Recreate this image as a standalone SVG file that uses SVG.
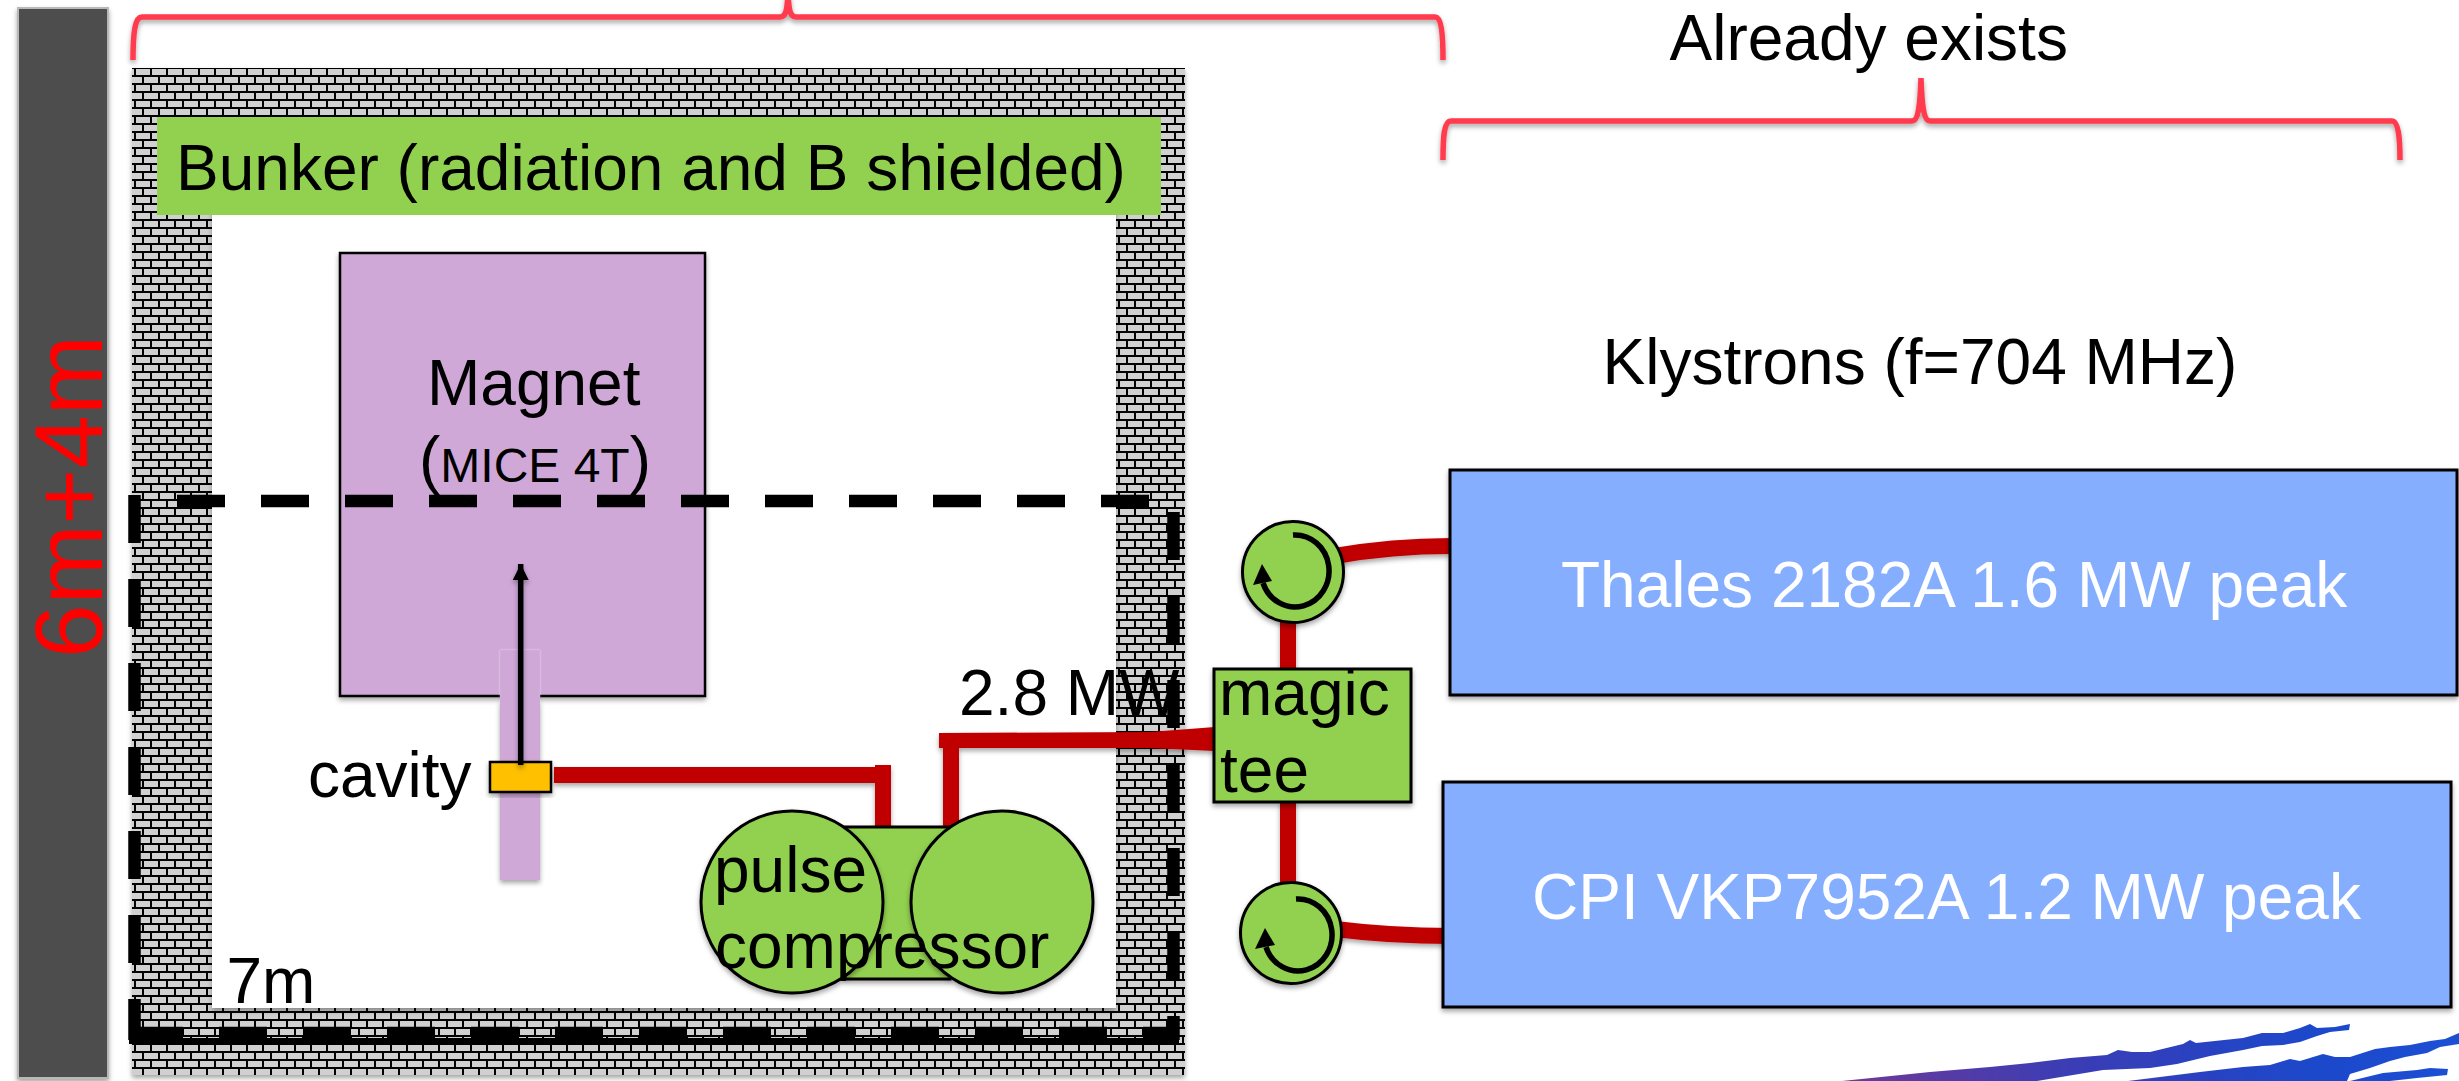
<svg xmlns="http://www.w3.org/2000/svg" width="2459" height="1081" viewBox="0 0 2459 1081">
<style>
text{font-family:"Liberation Sans",Arial,sans-serif;font-size:64px;fill:#000}
.w{fill:#fff}
.box{stroke:#000;stroke-width:3}
.g{fill:#92d050}
.b{fill:#86aeff}
.sh{filter:url(#sh)}
.brace{fill:none;stroke:#ff3b4e;stroke-width:5.5;filter:url(#sh)}
.rf{fill:none;stroke:#c00000;stroke-width:16}
.dash{fill:none;stroke:#000;stroke-width:12.5;stroke-dasharray:48 36}
.circ{fill:none;stroke:#000;stroke-width:5.5}
</style>
<defs>
<filter id="sh" x="-20%" y="-20%" width="140%" height="140%"><feDropShadow dx="0" dy="3" stdDeviation="2.5" flood-color="#000" flood-opacity="0.35"/></filter>
<filter id="shl" filterUnits="userSpaceOnUse" x="500" y="540" width="42" height="240"><feDropShadow dx="0" dy="3" stdDeviation="2.5" flood-color="#000" flood-opacity="0.35"/></filter>
<filter id="sb"><feGaussianBlur stdDeviation="0.6"/></filter>
<pattern id="brick" patternUnits="userSpaceOnUse" x="0" y="5" width="16" height="16">
<rect width="16" height="16" fill="#000"/>
<rect x="8" y="0" width="8" height="6" fill="#d0d0d0"/>
<rect x="0" y="0" width="6" height="6" fill="#d0d0d0"/>
<rect x="0" y="8" width="14" height="6" fill="#d0d0d0"/>
</pattern>
<linearGradient id="sw" gradientUnits="userSpaceOnUse" x1="1850" y1="0" x2="2459" y2="0">
<stop offset="0" stop-color="#6c3a98"/><stop offset="0.35" stop-color="#3c3cb4"/><stop offset="0.7" stop-color="#2046c8"/><stop offset="1" stop-color="#1a50d4"/>
</linearGradient>
<marker id="ah" markerUnits="userSpaceOnUse" markerWidth="16" markerHeight="18" refX="16" refY="8" orient="auto"><path d="M0,0L16,8L0,16Z" fill="#000"/></marker>
</defs>
<rect width="2459" height="1081" fill="#fff"/>

<g id="swoosh" filter="url(#sb)" fill="url(#sw)">
<path d="M1842,1081L1930,1072L1990,1067L2030,1063L2070,1058L2107,1055L2118,1050L2132,1052L2150,1052L2183,1044L2190,1040L2196,1043L2243,1038L2262,1033L2283,1033L2300,1028L2310,1024L2317,1028L2335,1027L2350,1024L2349,1030L2330,1032L2317,1036L2300,1042L2283,1045L2262,1046L2243,1050L2210,1056L2177,1064L2150,1068L2103,1070L2067,1076L2037,1081Z"/>
<path d="M2128,1081L2200,1072L2243,1067L2270,1065L2290,1059L2300,1061L2323,1054L2335,1057L2350,1057L2375,1049L2390,1047L2410,1045L2430,1041L2445,1039L2459,1033L2459,1044L2440,1047L2427,1053L2405,1057L2390,1061L2370,1068L2350,1074L2347,1081Z"/>
<path d="M2350,1081L2383,1073L2417,1070L2430,1068L2448,1069L2447,1075L2417,1078L2390,1081Z"/>
</g>

<g id="height-bar">
<rect x="18" y="8" width="90" height="1070" fill="#4d4d4d" stroke="#b8b8b8" stroke-width="2" class="sh"/>
<text transform="translate(102,658) rotate(-90)" style="font-size:96px;fill:#f00">6m+4m</text>
</g>

<g id="bunker">
<rect x="132" y="68" width="1053" height="1007" fill="url(#brick)" class="sh"/>
<rect x="212" y="200" width="904" height="808" fill="#fff" class="sh"/>
<rect x="157" y="117" width="1004" height="98" class="g"/>
<text x="176" y="190">Bunker (radiation and B shielded)</text>
</g>

<g id="magnet">
<rect x="340" y="253" width="365" height="443" fill="#cfa8d8" stroke="#000" stroke-width="2.500" class="sh"/>
<text x="427" y="405">Magnet</text>
<text x="419" y="482">(<tspan style="font-size:48px">MICE 4T</tspan>)</text>
</g>

<g id="cavity">
<rect x="500" y="700" width="40" height="180" fill="#cfa8d8" class="sh"/>
<rect x="500" y="650" width="40" height="70" fill="#cfa8d8"/>
<path d="M499.500,650V697M540.500,650V697M500,649.500H540" fill="none" stroke="#fff" stroke-opacity="0.2" stroke-width="1.500"/>
<rect x="490" y="762" width="61" height="30" fill="#ffc000" stroke="#000" stroke-width="2.500" class="sh"/>
<text x="308" y="797">cavity</text>
</g>

<g id="boundary">
<path class="dash" d="M177,501H1152"/>
<path class="dash" d="M134.500,495V1040"/>
<path class="dash" d="M1173.500,512V1040"/>
<path class="dash" d="M135,1033H1179"/>
<rect x="129" y="1038" width="1050" height="6" fill="#000"/>
</g>

<g id="connectors">
<path d="M520.700,765V564" fill="none" stroke="#000" stroke-width="5.500" marker-end="url(#ah)" filter="url(#shl)"/>
<g class="sh">
<path class="rf" d="M554,775H883M883,765V830"/>
<path class="rf" d="M951,745V830"/>
<path d="M939,733L1150,732L1215,727V751L1150,748L939,748Z" fill="#c00000"/>
<path class="rf" d="M1288,615V672M1288,800V890"/>
<path class="rf" d="M1335,556C1375,549 1410,546 1451,546"/>
<path class="rf" d="M1335,929C1375,934 1410,936 1451,936"/>
</g>
</g>

<g id="pulse-compressor">
<rect x="845" y="827" width="105" height="152" class="g box sh"/>
<circle cx="792" cy="902" r="91" class="g box sh"/>
<circle cx="1002" cy="902" r="91" class="g box sh"/>
<text x="714" y="892">pulse</text>
<text x="715" y="968">compressor</text>
</g>

<g id="magic-tee">
<rect x="1214" y="669" width="197" height="133" class="g box sh"/>
<text x="1219" y="715">magic</text>
<text x="1220" y="792">tee</text>
</g>

<g id="circulator-top">
<circle cx="1293" cy="572" r="50.500" class="g box sh"/>
<path class="circ" d="M1293,535A34,36 0 1 1 1263,583"/>
<path d="M1253,585L1272,581L1262,564Z" fill="#000"/>
</g>
<g id="circulator-bottom">
<circle cx="1291" cy="933" r="50.500" class="g box sh"/>
<path class="circ" d="M1296,899A34,36 0 1 1 1266,947"/>
<path d="M1255,949L1275,945L1265,928Z" fill="#000"/>
</g>

<g id="klystron-thales">
<rect x="1450" y="470" width="1007" height="225" class="b box sh"/>
<text x="1561" y="607" class="w">Thales 2182A 1.6 MW peak</text>
</g>
<g id="klystron-cpi">
<rect x="1443" y="782" width="1008" height="225" class="b box sh"/>
<text x="1532" y="919" class="w">CPI VKP7952A 1.2 MW peak</text>
</g>

<g id="braces">
<path class="brace" d="M133,60C133,32 135,17 142,17H780C786,17 787,10 788,-5C789,10 790,17 796,17H1435C1441,17 1443,32 1443,60"/>
<path class="brace" d="M1443,160C1443,136 1444,121 1451,121H1912C1918,121 1920,108 1921,78C1922,108 1924,121 1930,121H2392C2398,121 2400,136 2400,160"/>
</g>

<g id="labels">
<text x="1669.500" y="60">Already exists</text>
<text x="1602.500" y="384">Klystrons (f=704 MHz)</text>
<text x="226.500" y="1003">7m</text>
<text x="959" y="715">2.8 MW</text>
</g>
</svg>
